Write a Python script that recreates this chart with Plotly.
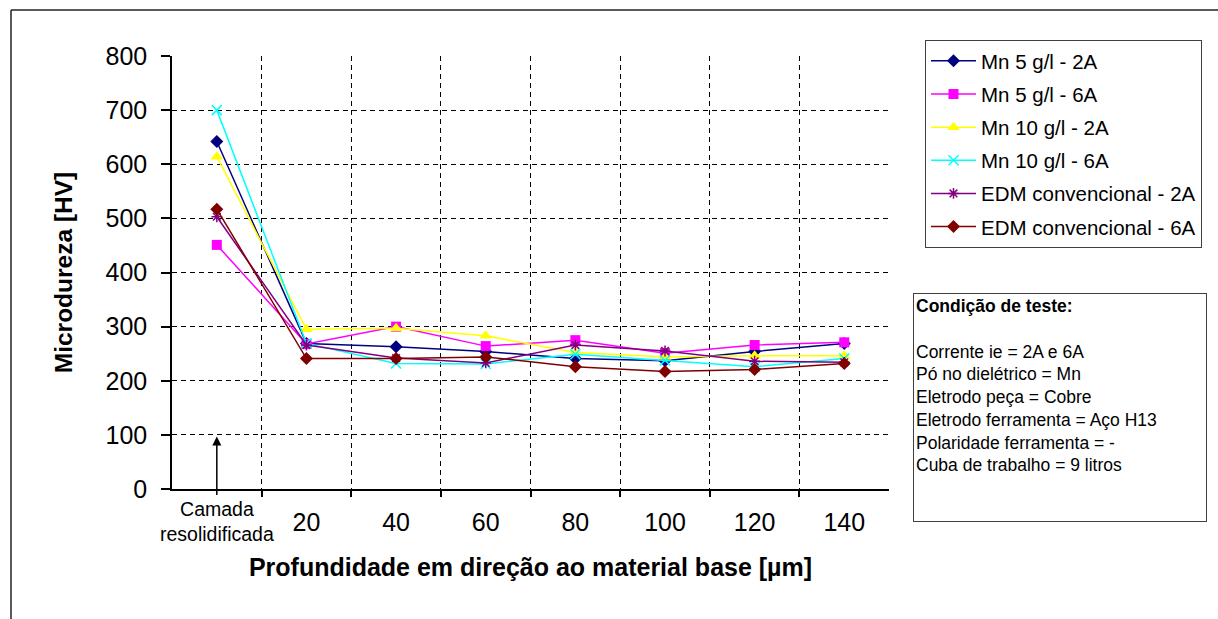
import plotly.graph_objects as go

# ---------------- data ----------------
categories = ["Camada<br>resolidificada", "20", "40", "60", "80", "100", "120", "140"]

mn5_2a = [642, 269, 263, 254, 241, 237, 254, 269]
mn5_6a = [451, 268, 300, 264, 275, 251, 266, 271]
mn10_2a = [614, 295, 297, 283, 252, 244, 246, 246]
mn10_6a = [700, 269, 232, 231, 249, 238, 226, 241]
edm_2a = [503, 266, 242, 233, 266, 255, 236, 234]
edm_6a = [517, 241, 241, 244, 226, 217, 221, 232]

series_names = ["Mn 5 g/l - 2A", "Mn 5 g/l - 6A", "Mn 10 g/l - 2A",
                "Mn 10 g/l - 6A", "EDM convencional - 2A", "EDM convencional - 6A"]
series_values = [mn5_2a, mn5_6a, mn10_2a, mn10_6a, edm_2a, edm_6a]
series_colors = ["#000080", "#FF00FF", "#FFFF00", "#00FFFF", "#800080", "#800000"]
series_symbols = ["diamond", "square", "triangle-up", "x-thin-open", "asterisk-open", "diamond"]
series_sizes = [10, 10, 11, 10, 9, 10]

y_ticks = [0, 100, 200, 300, 400, 500, 600, 700, 800]
y_grid = [100, 200, 300, 400, 500, 600, 700]

cond_title = "Condição de teste:"
cond_lines = ["Corrente ie = 2A e 6A", "Pó no dielétrico = Mn", "Eletrodo peça = Cobre",
              "Eletrodo ferramenta = Aço H13", "Polaridade ferramenta = -",
              "Cuba de trabalho = 9 litros"]

# ---------------- layout geometry ----------------
W, H = 1218, 619
ML, MR, MT, MB = 172, 329, 56, 130
PW, PH = W - ML - MR, H - MT - MB


def px_x(p):
    return (p - ML) / PW


def px_y(p):
    return (H - MB - p) / PH


FONT = "Liberation Sans, Arial, sans-serif"

xs = list(range(len(categories)))

fig = go.Figure()
for i, (name, vals) in enumerate(zip(series_names, series_values)):
    sym = series_symbols[i]
    open_sym = sym.endswith("-open")
    fig.add_trace(go.Scatter(
        x=xs, y=vals, name=name, mode="lines+markers",
        legendgroup=f"g{i}",
        line=dict(color=series_colors[i], width=1.5),
        marker=dict(symbol=sym, size=series_sizes[i], color=series_colors[i],
                    line=dict(color=series_colors[i], width=1.5 if open_sym else 0)),
    ))

# first category label is drawn separately in a smaller font
ticktext = [""] + categories[1:]

fig.update_layout(
    width=W, height=H,
    margin=dict(l=ML, r=MR, t=MT, b=MB, autoexpand=False),
    paper_bgcolor="white", plot_bgcolor="white",
    font=dict(family=FONT, color="black"),
    showlegend=True,
    legend=dict(
        x=px_x(925), y=px_y(40), xanchor="left", yanchor="top",
        bordercolor="#404040", borderwidth=1, bgcolor="white",
        font=dict(size=20.5, family=FONT), tracegroupgap=3.5, itemwidth=45,
    ),
    xaxis=dict(
        range=[-0.5, 7.499], tickmode="array", tickvals=xs, ticktext=ticktext,
        ticks="", showgrid=False, zeroline=False,
        showline=True, linecolor="black", linewidth=1.5,
        tickfont=dict(size=25), ticklabelstandoff=10,
        minor=dict(tickmode="array", tickvals=[v + 0.5 for v in xs[:-1]],
                   showgrid=True, gridcolor="black", gridwidth=1.3, griddash="5px,4px",
                   ticks="outside", ticklen=6, tickwidth=1.5, tickcolor="black"),
        title=dict(text="<b>Profundidade em direção ao material base [µm]</b>",
                   font=dict(size=25), standoff=24),
    ),
    yaxis=dict(
        range=[0, 800], tickmode="array", tickvals=y_ticks,
        ticks="outside", ticklen=9, tickwidth=1.5, tickcolor="black",
        showgrid=False, zeroline=False,
        showline=True, linecolor="black", linewidth=1.5,
        tickfont=dict(size=25), ticklabelstandoff=9,
        minor=dict(tickmode="array", tickvals=y_grid, showgrid=True,
                   gridcolor="black", gridwidth=1.3, griddash="5px,4px", ticks=""),
        title=dict(text="<b>Microdureza [HV]</b>", font=dict(size=24.5), standoff=26),
    ),
)

# label of first category
fig.add_annotation(x=xs[0], y=0, xref="x", yref="paper", yanchor="top",
                   yshift=-7, showarrow=False, text=categories[0],
                   font=dict(size=19.5, family=FONT, color="black"))

# arrow pointing to the resolidified layer
fig.add_annotation(x=xs[0], y=97, xref="x", yref="y", ax=0, ay=60,
                   showarrow=True, arrowhead=2, arrowsize=1.2, arrowwidth=1.5,
                   arrowcolor="black", text="")

# test conditions box
cond_text = "<b>" + cond_title + "</b><br><br>" + "<br>".join(cond_lines)
fig.add_annotation(x=px_x(913), y=px_y(293), xref="paper", yref="paper",
                   xanchor="left", yanchor="top", showarrow=False,
                   text=cond_text, align="left", valign="top",
                   width=288, height=223, borderpad=2,
                   bordercolor="#404040", borderwidth=1, bgcolor="white",
                   font=dict(size=17.5, family=FONT, color="black"))

# outer chart frame (top and left edges visible)
fig.add_shape(type="line", xref="paper", yref="paper",
              x0=px_x(11), y0=px_y(10), x1=px_x(1230), y1=px_y(10),
              line=dict(color="#222222", width=1.5))
fig.add_shape(type="line", xref="paper", yref="paper",
              x0=px_x(11), y0=px_y(10), x1=px_x(11), y1=px_y(640),
              line=dict(color="#222222", width=1.5))

fig.write_html("out.html")
